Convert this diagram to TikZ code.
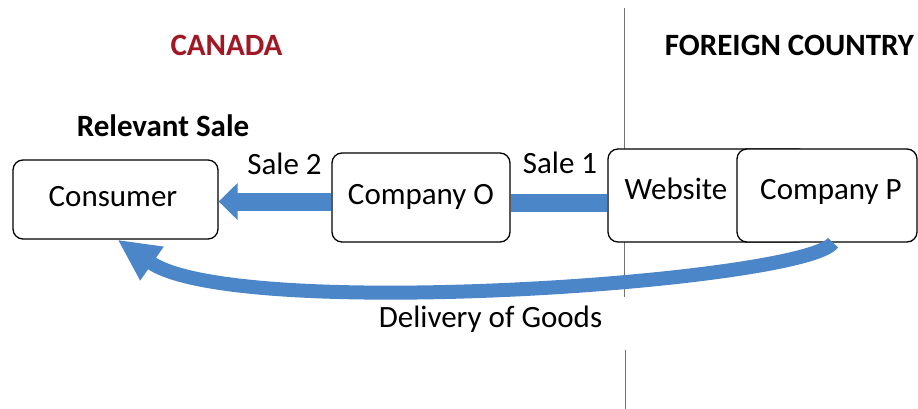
\documentclass[tikz,border=0pt]{standalone}
\usepackage{fontspec}
\setmainfont{Carlito}
\usetikzlibrary{arrows.meta}
\definecolor{arrowblue}{RGB}{74,134,200}
\definecolor{canadared}{RGB}{160,24,36}
\begin{document}
\begin{tikzpicture}[x=1pt,y=-1pt,
  box/.style={draw=black, line width=1.3pt, rounded corners=10pt, fill=white, inner sep=0pt},
  lbl/.style={anchor=base, inner sep=0pt, font=\fontsize{31}{33}\selectfont},
  head/.style={anchor=center, inner sep=0pt, font=\fontsize{31}{33}\selectfont\bfseries},
  divider/.style={draw=black!55, line width=0.8pt},
  shaft/.style={draw=arrowblue, line width=18pt},
  curvearrow/.style={draw=arrowblue, line width=14pt, -{Triangle[length=42pt,width=38pt]}}]
\useasboundingbox (0,0) rectangle (918,409);
\draw[divider] (624,8) -- (624,297);
\draw[divider] (625,350) -- (625,409);
\node[head, text=canadared] (canada) at (226.5,45) {CANADA};
\node[head] (foreign) at (789.5,45) {FOREIGN COUNTRY};
\node[head] (relevant) at (163,126) {Relevant Sale};
\node[box, minimum width=205pt, minimum height=79pt] (consumer) at (115.5,199.5) {};
\node[box, minimum width=178pt, minimum height=89pt] (companyo) at (421,197.5) {};
\node[box, minimum width=200pt, minimum height=93pt] (website) at (708,195.5) {};
\node[box, minimum width=180pt, minimum height=93pt] (companyp) at (827,195.5) {};
\node[lbl] (consumerlbl) at (113,206) {Consumer};
\node[lbl] (companyolbl) at (421,204) {Company O};
\node[lbl] (websitelbl) at (676,199) {Website};
\node[lbl] (companyplbl) at (831,199) {Company P};
\node[lbl] (sale2) at (284.5,175) {Sale 2};
\node[lbl] (sale1) at (560,173) {Sale 1};
\node[lbl] (delivery) at (490.5,327) {Delivery of Goods};
\draw[shaft, -{Triangle[length=19pt,width=36pt]}] ([yshift=-4pt]companyo.west) -- ([yshift=-2pt]consumer.east);
\draw[shaft] ([yshift=-5pt]companyo.east) -- ([yshift=-7pt]website.west);
\draw[curvearrow] ([xshift=6pt]companyp.south) .. controls (805,282) and (236,322) .. ([xshift=2pt]consumer.south);
\end{tikzpicture}
\end{document}
